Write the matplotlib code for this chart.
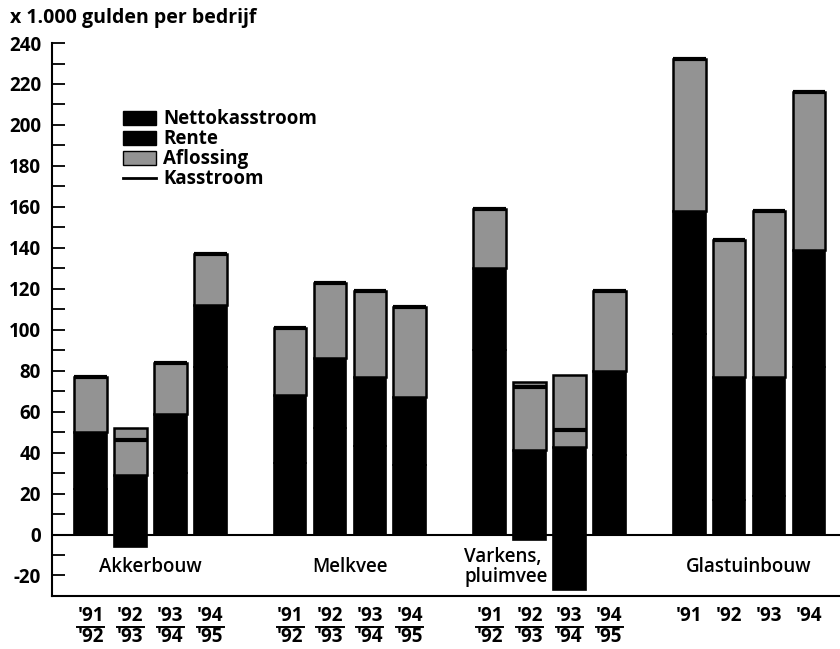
import matplotlib.pyplot as plt
from matplotlib.patches import Patch
from matplotlib.lines import Line2D

plt.rcParams['font.family'] = ['Open Sans', 'DejaVu Sans']
plt.rcParams['axes.unicode_minus'] = False

# Data (x 1.000 gulden per bedrijf)
groups = ['Akkerbouw', 'Melkvee', 'Varkens,\npluimvee', 'Glastuinbouw']
seasons_top = ["'91", "'92", "'93", "'94"]
seasons_bottom = ["'92", "'93", "'94", "'95"]

# per group: 4 seasons
nettokasstroom = [[22, -6, 30, 82],
                  [35, 52, 43, 34],
                  [90, -2.5, -27, 39],
                  [98, 17, 19, 82]]
rente = [[28, 29, 29, 30],
         [33, 34, 34, 33],
         [40, 41.5, 42.5, 41],
         [60, 60, 58, 57]]
aflossing = [[27, 23, 25, 25],
             [33, 37, 42, 44],
             [29, 33, 35.5, 39],
             [74, 67, 81, 77]]

black = '#000000'
grey = '#939393'
width = 0.82

fig = plt.figure(figsize=(8.4, 6.49), dpi=100)
ax = fig.add_axes([0.062, 0.0817, 0.938, 0.852])

for g in range(len(groups)):
    for i in range(4):
        x = g * 5 + i
        n = nettokasstroom[g][i]
        r = rente[g][i]
        a = aflossing[g][i]
        base = max(n, 0)
        if n < 0:
            ax.bar(x, -n, bottom=n, width=width, color=black, edgecolor=black, lw=1.2)
        else:
            ax.bar(x, n, bottom=0, width=width, color=black, edgecolor=black, lw=1.2)
        ax.bar(x, r, bottom=base, width=width, color=black, edgecolor=black, lw=1.2)
        ax.bar(x, a, bottom=base + r, width=width, color=grey, edgecolor=black, lw=1.8)
        # Kasstroom = nettokasstroom + rente + aflossing
        k = n + r + a
        ax.hlines(k, x - width / 2, x + width / 2, color=black, lw=3.0)

    # category name inside the plot, below zero
    xc = g * 5 + 1.5
    if g == 2:
        ax.text(g * 5 - 0.63, -16, groups[g], ha='left', va='center',
                fontsize=13.5, fontweight='semibold', linespacing=1.0)
    else:
        ax.text(xc, -16, groups[g], ha='center', va='center',
                fontsize=13.5, fontweight='semibold')

    # season labels below the axis
    for i in range(4):
        x = g * 5 + i
        ax.text(x, -40, seasons_top[i], ha='center', va='center',
                fontsize=13.5, fontweight='bold', clip_on=False)
        if g < 3:
            ax.plot([x - 0.34, x + 0.34], [-45, -45], color=black, lw=1.4,
                    clip_on=False)
            ax.text(x, -50, seasons_bottom[i], ha='center', va='center',
                    fontsize=13.5, fontweight='bold', clip_on=False)

ax.axhline(0, color=black, lw=1.5)

ax.set_xlim(-0.965, 18.78)
ax.set_ylim(-30, 240)
ax.set_xticks([])
ax.set_yticks(range(-20, 241, 20))
ax.set_yticks(range(-30, 241, 10), minor=True)
ax.tick_params(axis='y', which='both', direction='in', length=9, width=1.3,
               labelsize=13.5, pad=8)
for lab in ax.get_yticklabels():
    lab.set_fontweight('bold')
ax.spines['top'].set_visible(False)
ax.spines['right'].set_visible(False)
ax.spines['left'].set_linewidth(1.5)
ax.spines['bottom'].set_linewidth(1.5)

handles = [Patch(facecolor=black, edgecolor=black),
           Patch(facecolor=black, edgecolor=black),
           Patch(facecolor=grey, edgecolor=black),
           Line2D([0], [0], color=black, lw=2)]
labels = ['Nettokasstroom', 'Rente', 'Aflossing', 'Kasstroom']
leg = ax.legend(handles, labels, loc='upper left', bbox_to_anchor=(0.078, 0.897),
                frameon=False, handlelength=1.75, handleheight=0.75,
                handletextpad=0.4, labelspacing=0.0, borderpad=0,
                prop={'size': 13.5, 'weight': 'bold'})

fig.text(0.012, 0.972, 'x 1.000 gulden per bedrijf', ha='left', va='center',
         fontsize=14, fontweight='bold')

fig.savefig('out.png', dpi=100)
